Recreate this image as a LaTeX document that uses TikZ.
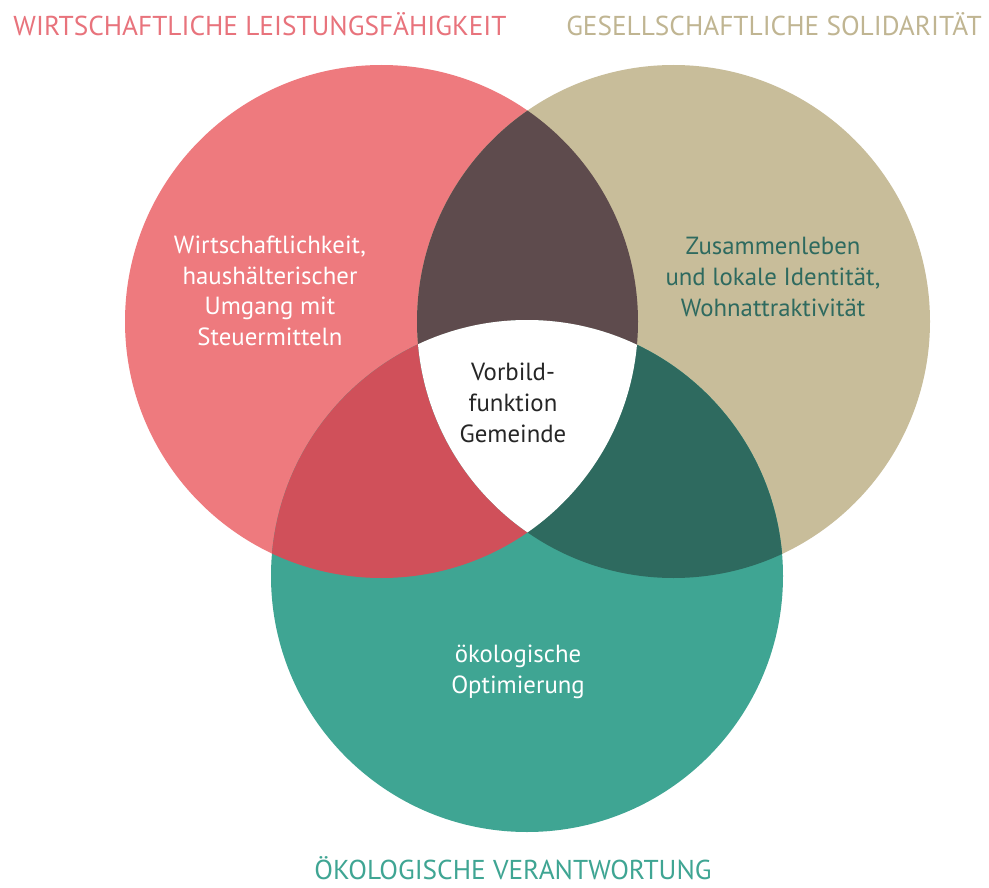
\documentclass[tikz,border=0pt]{standalone}
\usepackage{fontspec}
\setmainfont{PT Sans}
\definecolor{cred}{HTML}{EE7A7E}
\definecolor{cbeige}{HTML}{C8BD9A}
\definecolor{cteal}{HTML}{3FA593}
\definecolor{cbrown}{HTML}{5E4B4D}
\definecolor{cdred}{HTML}{D0505A}
\definecolor{cdteal}{HTML}{2E6A5F}
\definecolor{tred}{HTML}{E8737C}
\definecolor{tbeige}{HTML}{C0B592}
\begin{document}
\begin{tikzpicture}[x=1pt,y=-1pt,
  title/.style={font=\fontsize{27.3}{30}\selectfont, inner sep=0pt, anchor=base},
  body/.style={font=\fontsize{24.8}{30.7}\selectfont, align=center, inner sep=0pt}]
\useasboundingbox (0,0) rectangle (989,888);
\fill[white] (0,0) rectangle (989,888);
\def\cL{(381.5,321.5) circle[radius=256.5pt]}
\def\cR{(673.5,321.5) circle[radius=256.5pt]}
\def\cB{(527,576) circle[radius=256pt]}
\fill[cred] \cL;
\fill[cbeige] \cR;
\fill[cteal] \cB;
\begin{scope}\clip \cL; \fill[cbrown] \cR; \end{scope}
\begin{scope}\clip \cL; \fill[cdred] \cB; \end{scope}
\begin{scope}\clip \cR; \fill[cdteal] \cB; \end{scope}
\begin{scope}\clip \cL; \clip \cR; \fill[white] \cB; \end{scope}
\node[title, text=tred] (t1) at (260,36) {WIRTSCHAFTLICHE LEISTUNGSFÄHIGKEIT};
\node[title, text=tbeige] (t2) at (774,36) {GESELLSCHAFTLICHE SOLIDARITÄT};
\node[title, text=cteal] (t3) at (513,879) {ÖKOLOGISCHE VERANTWORTUNG};
\node[body, text=white] (b1) at (270,291) {Wirtschaftlichkeit,\\haushälterischer\\Umgang mit\\Steuermitteln};
\node[body, text=cdteal] (b2) at (773,277) {Zusammenleben\\und lokale Identität,\\Wohnattraktivität};
\node[body, text=black!85] (b3) at (513,403) {Vorbild-\\funktion\\Gemeinde};
\node[body, text=white] (b4) at (518,672) {ökologische\\Optimierung};
\end{tikzpicture}
\end{document}
